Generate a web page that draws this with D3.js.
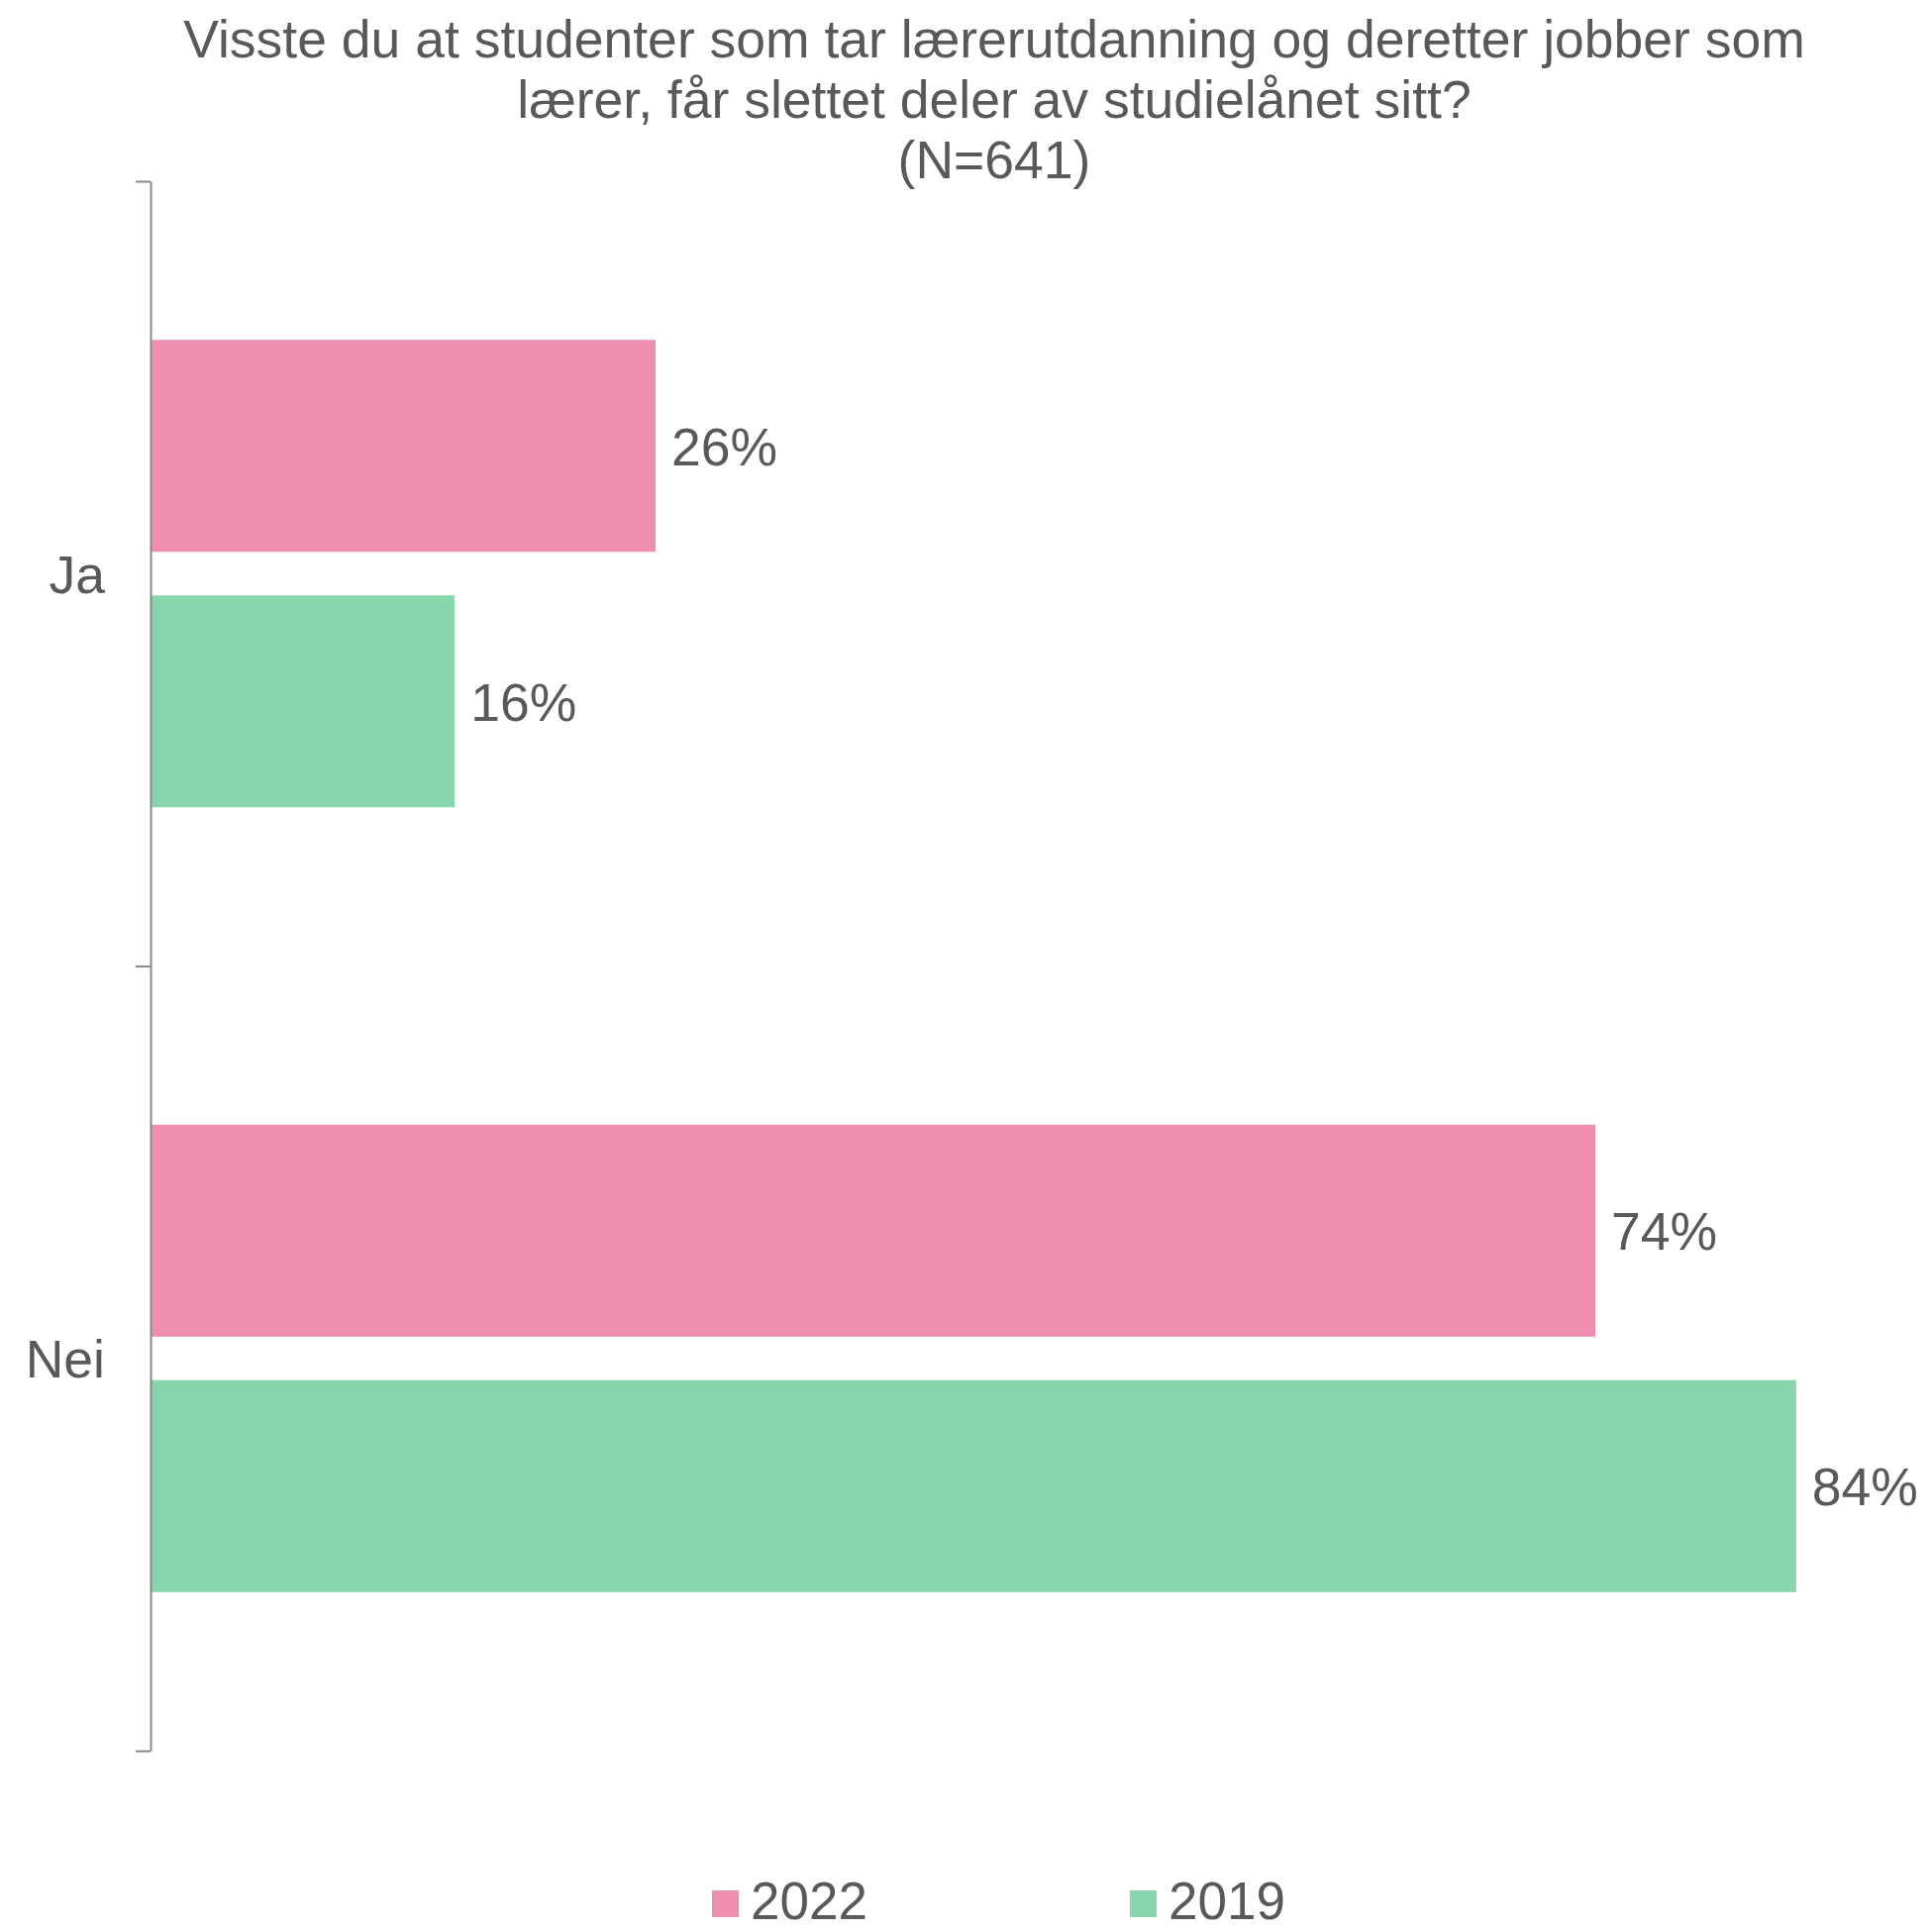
<!DOCTYPE html>
<html>
<head>
<meta charset="utf-8">
<script src="https://cdn.jsdelivr.net/npm/d3@7"></script>
<style>
  body { margin: 0; background: #fff; }
  text { font-family: 'Liberation Sans', Arial, sans-serif; fill: #595959; }
</style>
</head>
<body>
<svg id="chart"></svg>
<script>
const titleLines = ['Visste du at studenter som tar lærerutdanning og deretter jobber som', 'lærer, får slettet deler av studielånet sitt?', '(N=641)'];
const categories = ['Ja', 'Nei'];
const seriesNames = ['2022', '2019'];
const values2022 = [25.9, 74.1];
const values2019 = [15.6, 84.4];

const colors = {'2022': '#f08fad', '2019': '#88d4ab'};

const W = 1951, H = 1951;
const plotLeft = 152, plotTop = 183, plotBottom = 1768;

const svg = d3.select('#chart')
.attr('width', W)
.attr('height', H);

svg.append('rect').attr('width', W).attr('height', H).attr('fill', '#fff');

// title
const title = svg.append('text')
.attr('text-anchor', 'middle')
.style('font-size', '53.5px');
titleLines.forEach((t, i) => {
  title.append('tspan')
  .attr('x', 1004)
  .attr('y', 58 + i * 61)
  .text(t);
});

const x = d3.scaleLinear()
.domain([0, 100])
.range([plotLeft, plotLeft + 1969]);

const y = d3.scaleBand()
.domain(categories)
.range([plotTop, plotBottom]);

const ySub = d3.scaleBand()
.domain(seriesNames)
.range([0, y.bandwidth()])
.paddingInner(0.1705)
.paddingOuter(0.621);

const data = [];
categories.forEach((c, i) => {
  data.push({cat: c, series: '2022', value: values2022[i]});
  data.push({cat: c, series: '2019', value: values2019[i]});
});

svg.selectAll('rect.bar')
.data(data)
.enter()
.append('rect')
.attr('class', 'bar')
.attr('x', x(0))
.attr('y', d => y(d.cat) + ySub(d.series))
.attr('width', d => x(d.value) - x(0))
.attr('height', ySub.bandwidth())
.attr('fill', d => colors[d.series]);

svg.selectAll('text.val')
.data(data)
.enter()
.append('text')
.attr('class', 'val')
.attr('x', d => x(d.value) + 16)
.attr('y', d => y(d.cat) + ySub(d.series) + ySub.bandwidth() / 2)
.attr('dy', '0.36em')
.style('font-size', '53.5px')
.text(d => Math.round(d.value) + '%');

// axis with ticks on band edges
const yEdge = d3.scaleLinear()
.domain([0, categories.length])
.range([plotTop, plotBottom]);

const axis = svg.append('g')
.attr('transform', `translate(${plotLeft}, 0)`)
.call(d3.axisLeft(yEdge).tickValues([0, 1, 2]).tickSize(15).tickSizeOuter(0).tickFormat(''));
axis.select('.domain').attr('stroke', '#898989').attr('stroke-width', 2);
axis.selectAll('.tick line').attr('stroke', '#898989').attr('stroke-width', 2);

svg.selectAll('text.cat')
.data(categories)
.enter()
.append('text')
.attr('class', 'cat')
.attr('x', 106)
.attr('y', d => y(d) + y.bandwidth() / 2)
.attr('dy', '0.36em')
.attr('text-anchor', 'end')
.style('font-size', '53.5px')
.text(d => d);

// legend
const legendX = [719, 1141];
seriesNames.forEach((s, i) => {
  svg.append('rect')
  .attr('x', legendX[i]).attr('y', 1909)
  .attr('width', 27).attr('height', 27)
  .attr('fill', colors[s]);
  svg.append('text')
  .attr('x', legendX[i] + 39).attr('y', 1938)
  .style('font-size', '53px')
  .text(s);
});
</script>
</body>
</html>
